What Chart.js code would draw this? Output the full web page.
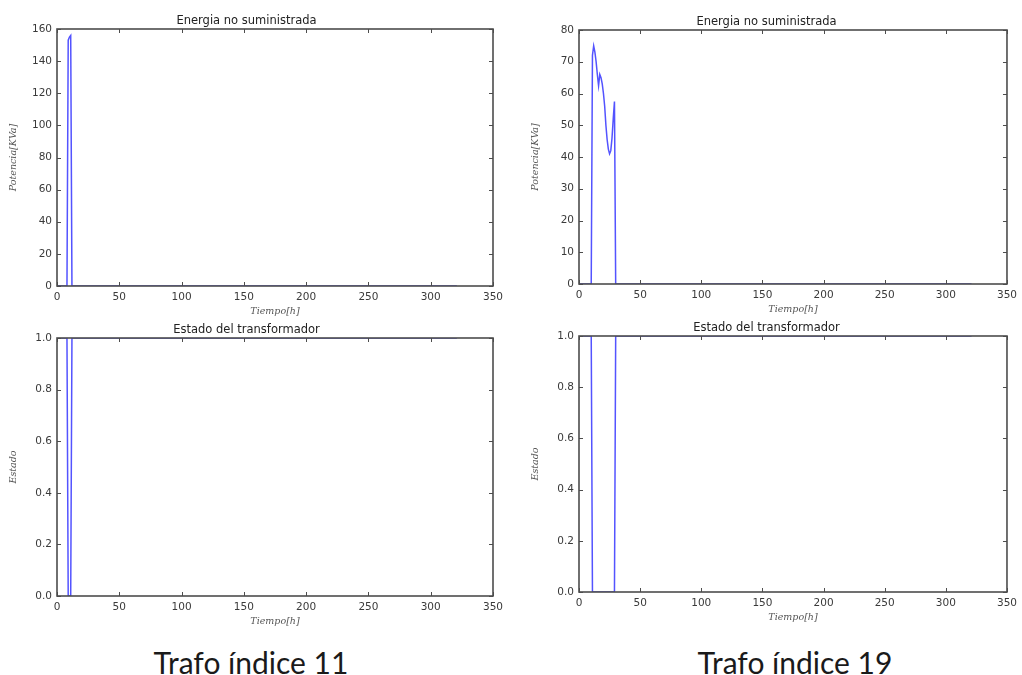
<!DOCTYPE html>
<html>
<head>
<meta charset="utf-8">
<script src="https://cdn.jsdelivr.net/npm/chart.js@4/dist/chart.umd.min.js"></script>
<style>
  html, body { margin: 0; padding: 0; background: #ffffff; }
  #wrap { position: relative; width: 1022px; height: 675px; overflow: hidden; background: #fff; }
  canvas { position: absolute; }
  .cap { position: absolute; width: 400px; text-align: center; font-family: Lato, "Open Sans", sans-serif;
         font-size: 30px; line-height: normal; color: #1a1a1a; }
</style>
</head>
<body>
<div id="wrap">
  <canvas id="c1"></canvas>
  <canvas id="c2"></canvas>
  <canvas id="c3"></canvas>
  <canvas id="c4"></canvas>
  <div class="cap" style="left:51px; top:644px;">Trafo índice 11</div>
  <div class="cap" style="left:595px; top:644px;">Trafo índice 19</div>
</div>
<script>
// ---------------- DATA ----------------
const xTicks = [0, 50, 100, 150, 200, 250, 300, 350];
const energiaTicks11 = [0, 20, 40, 60, 80, 100, 120, 140, 160];
const energiaTicks19 = [0, 10, 20, 30, 40, 50, 60, 70, 80];
const estadoTicks = [0.0, 0.2, 0.4, 0.6, 0.8, 1.0];

// Trafo 11 (hours, energy not supplied in kVA)
const tiempoEnergia11 = [0, 8, 9, 10, 11, 12, 321];
const energia11       = [0, 0, 153, 155, 156, 0, 0];
// Trafo 11 state
const tiempoEstado11 = [0, 8, 9, 11, 12, 321];
const estado11       = [1, 1, 0, 0, 1, 1];

// Trafo 19 energy
const tiempoEnergia19 = [0, 10, 11, 12, 13, 14, 15, 16, 17, 18, 19, 20, 21, 22, 23, 24, 25, 26, 27, 28, 29, 30, 321];
const energia19       = [0, 0, 72, 75, 73, 70, 66, 62.5, 66, 65, 63, 60, 56, 50, 45.5, 42.5, 41, 42, 46, 52, 57.5, 0, 0];
// Trafo 19 state
const tiempoEstado19 = [0, 10, 11, 29, 30, 321];
const estado19       = [1, 1, 0, 0, 1, 1];

const tituloEnergia = "Energia no suministrada";
const tituloEstado = "Estado del transformador";
const etiquetaX = "Tiempo[h]";
const etiquetaPot = "Potencia[KVa]";
const etiquetaEst = "Estado";

// ---------------- HELPERS ----------------
function pts(xs, ys) { return xs.map((x, i) => ({ x: x, y: ys[i] })); }

const frameColor = '#4d4d4d';
const framePlugin = {
  id: 'frame',
  afterDatasetsDraw(chart) {
    const { ctx, chartArea: a, scales } = chart;
    ctx.save();
    ctx.strokeStyle = frameColor;
    ctx.lineWidth = 1;
    const L = 4;
    ctx.beginPath();
    scales.x.ticks.forEach(t => {
      const px = Math.round(scales.x.getPixelForValue(t.value)) + 0.5;
      ctx.moveTo(px, a.bottom); ctx.lineTo(px, a.bottom - L);
      ctx.moveTo(px, a.top); ctx.lineTo(px, a.top + L);
    });
    scales.y.ticks.forEach(t => {
      const py = Math.round(scales.y.getPixelForValue(t.value)) + 0.5;
      ctx.moveTo(a.left, py); ctx.lineTo(a.left + L, py);
      ctx.moveTo(a.right, py); ctx.lineTo(a.right - L, py);
    });
    ctx.stroke();
    ctx.lineWidth = 1.6;
    ctx.strokeRect(a.left, a.top, a.right - a.left, a.bottom - a.top);
    ctx.restore();
  }
};

function makeChart(id, box, xs, ys, yTicks, yLabel, title, titleArea, isState) {
  const cv = document.getElementById(id);
  cv.width = box.w; cv.height = box.h;
  cv.style.left = box.left + 'px'; cv.style.top = box.top + 'px';
  cv.style.width = box.w + 'px'; cv.style.height = box.h + 'px';
  const tickFont = { family: 'DejaVu Sans', size: 10.5 };
  const axTitleFont = { family: 'DejaVu Serif', size: 9.5, style: 'italic' };
  return new Chart(cv, {
    type: 'line',
    data: {
      datasets: [{
        data: pts(xs, ys),
        borderColor: 'rgba(40,40,255,0.8)',
        borderWidth: 1.5,
        pointRadius: 0,
        tension: 0,
        fill: false
      }]
    },
    options: {
      responsive: false,
      animation: false,
      layout: { padding: { left: 0, right: box.padRight, top: 0, bottom: 0 } },
      plugins: {
        legend: { display: false },
        tooltip: { enabled: false },
        title: {
          display: true,
          text: title,
          color: '#222',
          font: { family: 'DejaVu Sans', size: 11.5, weight: 'normal', lineHeight: 1.2 },
          padding: { top: titleArea - 13.8 - 1, bottom: 1 }
        }
      },
      scales: {
        x: {
          type: 'linear',
          min: xTicks[0], max: xTicks[xTicks.length - 1],
          afterBuildTicks: s => { s.ticks = xTicks.map(v => ({ value: v })); },
          afterFit: s => { s.height = 32; },
          grid: { display: false, drawTicks: false },
          border: { display: false },
          ticks: { color: '#3a3a3a', font: tickFont, padding: 5, maxRotation: 0, autoSkip: false,
                   callback: v => String(v) },
          title: { display: true, text: etiquetaX, color: '#555', font: axTitleFont,
                   padding: { top: 1, bottom: 1 } }
        },
        y: {
          type: 'linear',
          min: yTicks[0], max: yTicks[yTicks.length - 1],
          afterBuildTicks: s => { s.ticks = yTicks.map(v => ({ value: v })); },
          afterFit: s => { s.width = 57; },
          grid: { display: false, drawTicks: false },
          border: { display: false },
          ticks: { color: '#3a3a3a', font: tickFont, padding: 5, autoSkip: false,
                   callback: v => isState ? Number(v).toFixed(1) : String(v) },
          title: { display: true, text: yLabel, color: '#555', font: axTitleFont,
                   padding: { top: 8, bottom: 8 } }
        }
      }
    },
    plugins: [framePlugin]
  });
}

makeChart('c1', { left: 0, top: 0, w: 515, h: 318, padRight: 22 },
  tiempoEnergia11, energia11, energiaTicks11, etiquetaPot, tituloEnergia, 29, false);
makeChart('c2', { left: 522, top: 0, w: 500, h: 316, padRight: 11 },
  tiempoEnergia19, energia19, energiaTicks19, etiquetaPot, tituloEnergia, 30, false);
makeChart('c3', { left: 0, top: 320, w: 515, h: 308, padRight: 22 },
  tiempoEstado11, estado11, estadoTicks, etiquetaEst, tituloEstado, 18, true);
makeChart('c4', { left: 522, top: 320, w: 500, h: 304, padRight: 11 },
  tiempoEstado19, estado19, estadoTicks, etiquetaEst, tituloEstado, 16, true);
</script>
</body>
</html>
